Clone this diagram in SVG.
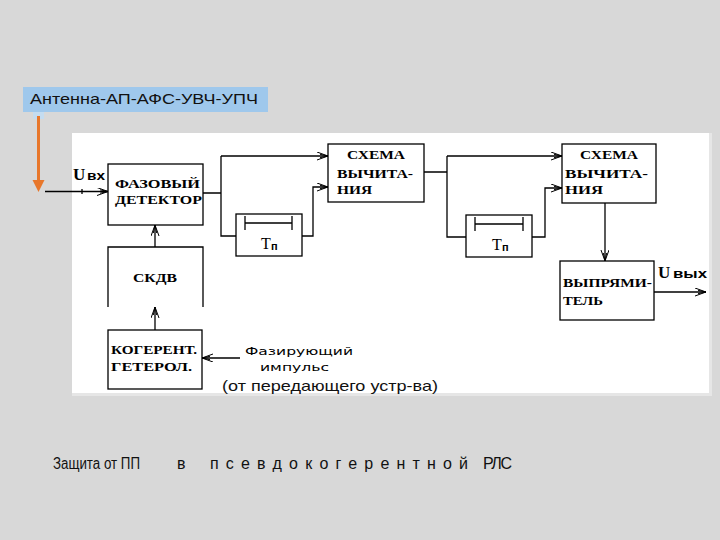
<svg xmlns="http://www.w3.org/2000/svg" width="720" height="540" viewBox="0 0 720 540">
<defs>
<marker id="arr" markerUnits="userSpaceOnUse" markerWidth="14" markerHeight="10" refX="11" refY="4" orient="auto">
<path d="M0,0 L11,4 L0,8 M3,2.3 L11,4 L3,5.7" fill="none" stroke="#000" stroke-width="1"/>
</marker>
<style>
.box{fill:#fff;stroke:#000;stroke-width:1.3}
.ln{fill:none;stroke:#000;stroke-width:1.3}
.lbl{font-family:"Liberation Serif","DejaVu Serif",serif;font-weight:bold;font-size:13px;fill:#000}
.lbs{font-family:"Liberation Serif","DejaVu Serif",serif;font-weight:bold;font-size:12px;fill:#000}
.tp{font-family:"Liberation Serif","DejaVu Serif",serif;font-size:16px;fill:#000}
.sm{font-family:"Liberation Sans","DejaVu Sans",sans-serif;font-weight:bold;font-size:12px;fill:#000}
.uu{font-family:"Liberation Serif",serif;font-weight:bold;font-size:17px;fill:#000}
.ar{font-family:"Liberation Sans",Arial,sans-serif;font-size:15px;fill:#111}
.cap{font-family:"Liberation Sans",Arial,sans-serif;font-size:16px;fill:#111}
.hw{font-family:"DejaVu Sans","Liberation Sans",sans-serif;font-size:11px;fill:#000}
</style>
</defs>
<rect x="0" y="0" width="720" height="540" fill="#d8d8d8"/>
<rect x="72" y="133" width="640" height="263" fill="#e6e6e6"/>
<rect x="72" y="133" width="637" height="260" fill="#fff"/>

<g id="title">
<rect x="23" y="87" width="245" height="25" fill="#9fc8ec"/>
<text class="ar" x="30" y="104" textLength="228" lengthAdjust="spacingAndGlyphs">Антенна-АП-АФС-УВЧ-УПЧ</text>
<rect x="33" y="112" width="11" height="7" fill="#c4dcf0"/>
<line x1="38.5" y1="116" x2="38.5" y2="182" stroke="#e8772b" stroke-width="3"/>
<polygon points="32.5,180 44.5,180 38.5,192" fill="#e8772b"/>
</g>

<g id="connectors">
<path class="ln" d="M45,191.5 H108" marker-end="url(#arr)"/>
<path class="ln" d="M82,189 V194"/>
<path class="ln" d="M203,193 H221 M221,156 V236 H236"/>
<path class="ln" d="M221,156 H328" marker-end="url(#arr)"/>
<path class="ln" d="M302,236 H313 V187 H328" marker-end="url(#arr)"/>
<path class="ln" d="M424,172 H447 M447,156 V237 H466"/>
<path class="ln" d="M447,156 H562" marker-end="url(#arr)"/>
<path class="ln" d="M532,237 H545 V188 H562" marker-end="url(#arr)"/>
<path class="ln" d="M605,203 V261" marker-end="url(#arr)"/>
<path class="ln" d="M654,292 H706" marker-end="url(#arr)"/>
<path class="ln" d="M155,247 V225" marker-end="url(#arr)"/>
<path class="ln" d="M155,330 V307" marker-end="url(#arr)"/>
<path class="ln" d="M240,358 H202" marker-end="url(#arr)"/>
</g>

<g id="uin">
<text class="uu" x="73" y="180">U</text>
<text class="sm" x="87" y="180" textLength="18" lengthAdjust="spacingAndGlyphs">вх</text>
</g>

<g id="detector">
<rect class="box" x="108" y="164" width="95" height="61"/>
<text class="lbs" x="115" y="188" textLength="85" lengthAdjust="spacingAndGlyphs">ФАЗОВЫЙ</text>
<text class="lbs" x="115" y="204" textLength="87" lengthAdjust="spacingAndGlyphs">ДЕТЕКТОР</text>
</g>

<g id="delay1">
<rect class="box" x="236" y="214" width="66" height="42"/>
<path class="ln" d="M245,223 H292 M245,216 V230 M292,216 V230"/>
<text class="tp" x="261" y="249">Т</text>
<text class="sm" x="271" y="250" style="font-size:11px">п</text>
</g>

<g id="sub1">
<rect class="box" x="328" y="144" width="96" height="58"/>
<text class="lbl" x="347" y="159" textLength="58" lengthAdjust="spacingAndGlyphs">СХЕМА</text>
<text class="lbl" x="337" y="178" textLength="76" lengthAdjust="spacingAndGlyphs">ВЫЧИТА-</text>
<text class="lbl" x="337" y="194" textLength="35" lengthAdjust="spacingAndGlyphs">НИЯ</text>
</g>

<g id="delay2">
<rect class="box" x="466" y="215" width="66" height="42"/>
<path class="ln" d="M475,224 H523 M475,217 V231 M523,217 V231"/>
<text class="tp" x="492" y="250">Т</text>
<text class="sm" x="502" y="251" style="font-size:11px">п</text>
</g>

<g id="sub2">
<rect class="box" x="562" y="144" width="94" height="59"/>
<text class="lbl" x="580" y="159" textLength="58" lengthAdjust="spacingAndGlyphs">СХЕМА</text>
<text class="lbl" x="565" y="178" textLength="83" lengthAdjust="spacingAndGlyphs">ВЫЧИТА-</text>
<text class="lbl" x="565" y="194" textLength="38" lengthAdjust="spacingAndGlyphs">НИЯ</text>
</g>

<g id="rectifier">
<rect class="box" x="560" y="261" width="94" height="59"/>
<text class="lbl" x="563" y="287" textLength="89" lengthAdjust="spacingAndGlyphs">ВЫПРЯМИ-</text>
<text class="lbl" x="563" y="305" textLength="40" lengthAdjust="spacingAndGlyphs">ТЕЛЬ</text>
</g>

<g id="uout">
<text class="uu" x="658" y="278">U</text>
<text class="sm" x="673" y="278" textLength="34" lengthAdjust="spacingAndGlyphs">вых</text>
</g>

<g id="skdv">
<path class="ln" d="M108,307 V247 H203 V307"/>
<text class="lbl" x="133" y="282" textLength="44" lengthAdjust="spacingAndGlyphs">СКДВ</text>
</g>

<g id="heterodyne">
<rect class="box" x="108" y="330" width="94" height="59"/>
<text class="lbs" x="111" y="354" textLength="86" lengthAdjust="spacingAndGlyphs">КОГЕРЕНТ.</text>
<text class="lbs" x="111" y="371" textLength="81" lengthAdjust="spacingAndGlyphs">ГЕТЕРОЛ.</text>
</g>

<g id="phasing">
<text class="hw" x="245" y="355" textLength="108" lengthAdjust="spacingAndGlyphs">Фазирующий</text>
<text class="hw" x="260" y="371" textLength="69" lengthAdjust="spacingAndGlyphs">импульс</text>
<text class="ar" x="222" y="391" textLength="216" lengthAdjust="spacingAndGlyphs">(от передающего устр-ва)</text>
</g>

<g id="caption">
<text class="cap" x="53" y="469" textLength="87" lengthAdjust="spacingAndGlyphs">Защита от ПП</text>
<text class="cap" x="177" y="469">в</text>
<text class="cap" x="210" y="469" textLength="258" lengthAdjust="spacing">псевдокогерентной</text>
<text class="cap" x="483" y="469" textLength="29" lengthAdjust="spacing">РЛС</text>
</g>
</svg>
